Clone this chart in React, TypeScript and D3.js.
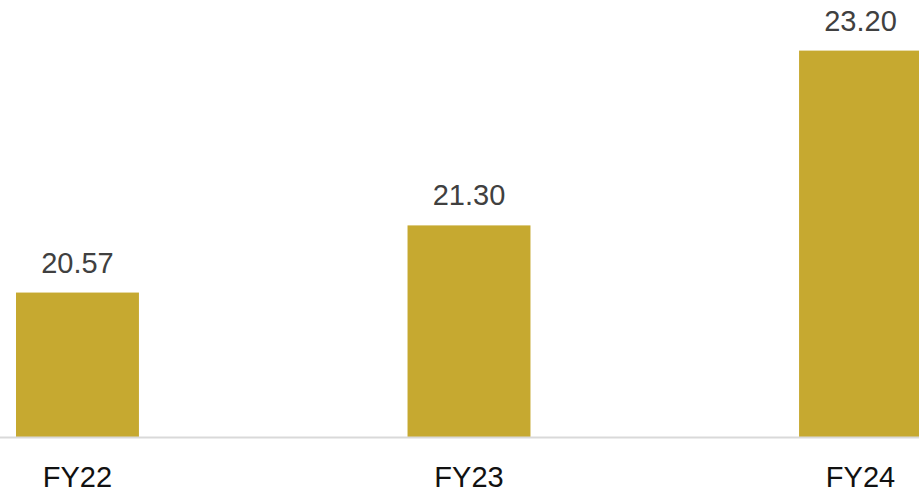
import React from "react";
import * as d3 from "d3";

const categories: string[] = ["FY22", "FY23", "FY24"];
const values: number[] = [20.57, 21.3, 23.2];
const valueLabels: string[] = ["20.57", "21.30", "23.20"];

const W = 919;
const H = 492;

export default function App() {
  const x = d3
    .scaleBand<string>()
    .domain(categories)
    .range([16, 922])
    .paddingInner(0.686)
    .paddingOuter(0);
  const y = d3.scaleLinear().domain([19, 23.75]).range([437, 0]);
  const base = y(19);

  return (
    <svg
      width={W}
      height={H}
      style={{ position: "absolute", left: 0, top: 0, background: "#fff" }}
      fontFamily="'Liberation Sans', Arial, sans-serif"
    >
      {categories.map((c, i) => {
        const bx = x(c) as number;
        const bw = x.bandwidth();
        const top = y(values[i]);
        return (
          <g key={c}>
            <rect x={bx} y={top} width={bw} height={base - top} fill="#c6a930" />
            <text
              x={bx + bw / 2}
              y={top - 20}
              textAnchor="middle"
              fontSize={29}
              fill="#404040"
            >
              {valueLabels[i]}
            </text>
            <text
              x={bx + bw / 2}
              y={486.5}
              textAnchor="middle"
              fontSize={29}
              fill="#111"
            >
              {c}
            </text>
          </g>
        );
      })}
      <line x1={0} x2={W} y1={base + 0.5} y2={base + 0.5} stroke="#d9d9d9" strokeWidth={2} />
    </svg>
  );
}
